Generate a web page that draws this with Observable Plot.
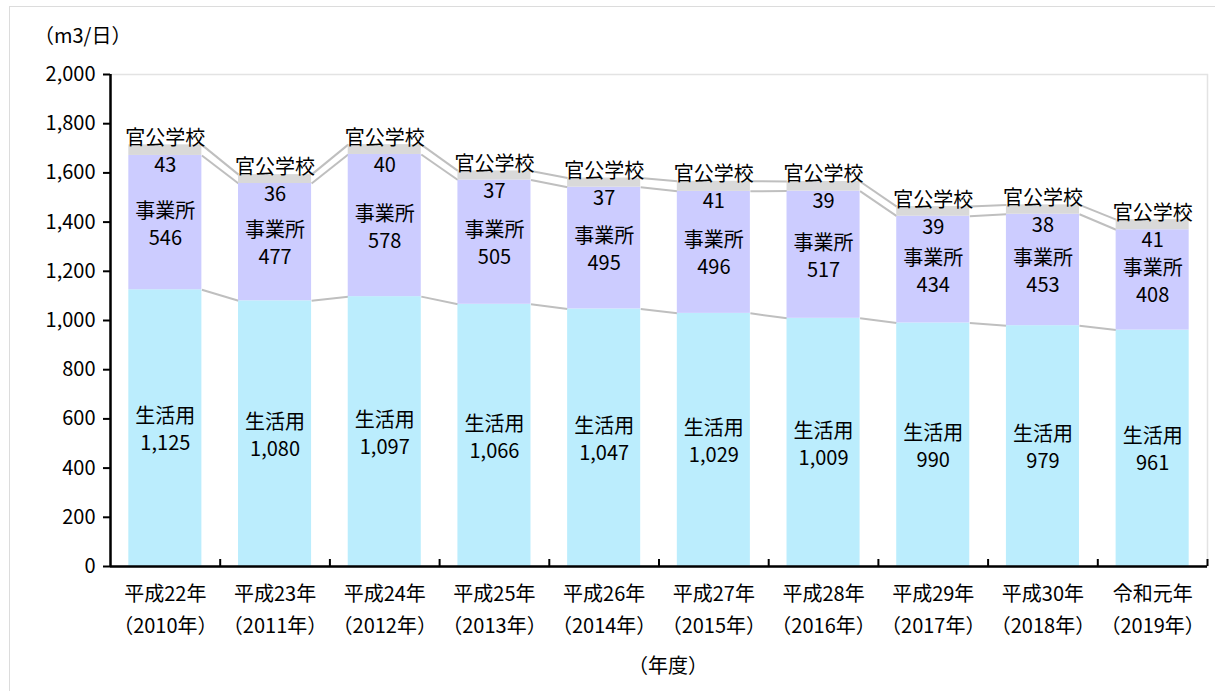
<!DOCTYPE html>
<html>
<head>
<meta charset="utf-8">
<script src="https://cdn.jsdelivr.net/npm/d3@7"></script>
<script src="https://cdn.jsdelivr.net/npm/@observablehq/plot@0.6"></script>
<style>
  html, body { margin: 0; padding: 0; background: #fff; }
  body { font-family: "Noto Sans CJK JP", sans-serif; color: #000; }
  #wrap { position: relative; width: 1215px; height: 691px; overflow: hidden; }
  #frame { position: absolute; left: 9px; top: 6px; width: 1215px; height: 700px; border: 1px solid #dcdcdc; box-sizing: border-box; }
  #unit { position: absolute; left: 34px; top: 20px; font-size: 20px; }
  #chart { position: absolute; left: 0; top: 50px; }
  #xtitle { position: absolute; left: 568px; width: 200px; text-align: center; top: 650px; font-size: 20px; }
</style>
</head>
<body>
<div id="wrap">
  <div id="frame"></div>
  <div id="unit">（m3/日）</div>
  <div id="chart"></div>
  <div id="xtitle">（年度）</div>
</div>
<script>
const yearsJP = ["平成22年","平成23年","平成24年","平成25年","平成26年","平成27年","平成28年","平成29年","平成30年","令和元年"];
const yearsAD = ["（2010年）","（2011年）","（2012年）","（2013年）","（2014年）","（2015年）","（2016年）","（2017年）","（2018年）","（2019年）"];
const seriesNames = ["生活用", "事業所", "官公学校"];
const seikatsu = [1125, 1080, 1097, 1066, 1047, 1029, 1009, 990, 979, 961];
const jigyosho = [546, 477, 578, 505, 495, 496, 517, 434, 453, 408];
const kankou = [43, 36, 40, 37, 37, 41, 39, 39, 38, 41];
const yTicks = [0, 200, 400, 600, 800, 1000, 1200, 1400, 1600, 1800, 2000];
const colors = ["#bbedfd", "#ccccff", "#d9d9d9"];

const seriesValues = [seikatsu, jigyosho, kankou];
const fmt = d3.format(",");
const half = 0.333;
const idx = d3.range(yearsJP.length);

// stacked segments
const segs = [];
idx.forEach(i => {
  let base = 0;
  seriesValues.forEach((vals, s) => {
    segs.push({i, s, name: seriesNames[s], v: vals[i], y1: base, y2: base + vals[i]});
    base += vals[i];
  });
});
// connector lines
const links = [];
seriesValues.forEach((vals, s) => {
  idx.slice(0, -1).forEach(i => {
    const a = segs.find(d => d.i === i && d.s === s);
    const b = segs.find(d => d.i === i + 1 && d.s === s);
    links.push({x1: i + half, x2: i + 1 - half, y1: a.y2, y2: b.y2});
  });
});

const font = "Noto Sans CJK JP, sans-serif";
const chart = Plot.plot({
  width: 1215,
  height: 600,
  marginLeft: 110,
  marginRight: 8,
  marginTop: 24,
  marginBottom: 84,
  style: {fontFamily: font, fontSize: "20px", color: "#000", background: "transparent"},
  x: {type: "linear", domain: [-0.5, yearsJP.length - 0.5]},
  y: {domain: [0, 2000]},
  marks: [
    Plot.frame({stroke: "#e3e3e3", strokeWidth: 1.5}),
    Plot.link(links, {x1: "x1", x2: "x2", y1: "y1", y2: "y2", stroke: "#bfbfbf", strokeWidth: 2}),
    Plot.rectY(segs, {x1: d => d.i - half, x2: d => d.i + half, y1: "y1", y2: "y2", fill: d => colors[d.s]}),
    Plot.text(segs, {
      x: "i", y: d => (d.y1 + d.y2) / 2,
      text: d => d.name + "\n" + fmt(d.v),
      lineHeight: 1.35, fontSize: 20, fill: "#000"
    }),
    Plot.axisY({ticks: yTicks, tickFormat: fmt, tickSize: 7, tickPadding: 8, fontSize: 20, stroke: "#000", strokeWidth: 2, label: null}),
    Plot.axisX({ticks: idx, tickFormat: i => yearsJP[i] + "\n" + yearsAD[i], tickSize: 0, tickPadding: 12, lineHeight: 1.6, fontSize: 20, label: null}),
    Plot.ruleX(idx, {x: i => i + 0.5, y1: 0, y2: 0, insetTop: -7, stroke: "#000", strokeWidth: 2}),
    Plot.ruleX([-0.5], {stroke: "#000", strokeWidth: 2.5}),
    Plot.ruleY([0], {stroke: "#000", strokeWidth: 2.5})
  ]
});
document.getElementById("chart").appendChild(chart);
</script>
</body>
</html>
